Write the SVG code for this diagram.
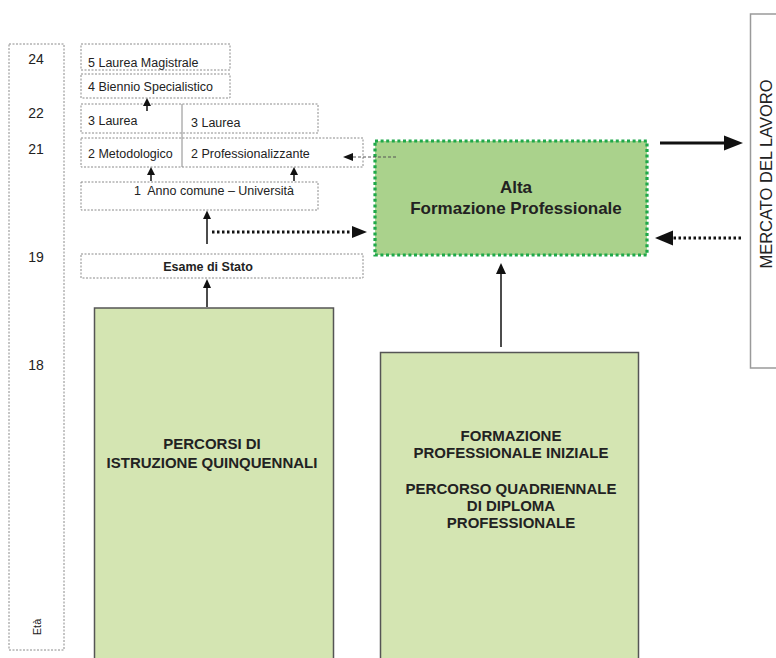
<svg xmlns="http://www.w3.org/2000/svg" width="776" height="658" viewBox="0 0 776 658">
<style>
  text { font-family: "Liberation Sans", Arial, sans-serif; fill: #222; }
  .dbox { fill: #fff; stroke: #8a8a8a; stroke-width: 1; stroke-dasharray: 2 1.5; }
  .sm { font-size: 12.5px; }
  .age { font-size: 14px; text-anchor: middle; }
  .big { fill: #d4e5b2; stroke: #555; stroke-width: 1.5; }
  .bt { font-size: 15px; font-weight: bold; text-anchor: middle; }
  .thin { stroke: #111; stroke-width: 1.5; fill: none; }
  .dot { stroke: #111; stroke-width: 3; stroke-dasharray: 2.5 2.5; fill: none; }
  .solid { stroke: #111; stroke-width: 3; fill: none; }
  .head { fill: #111; }
</style>

<g id="age-column">
  <rect class="dbox" x="9" y="44" width="55" height="606"/>
  <text class="age" x="36" y="64">24</text>
  <text class="age" x="36" y="118">22</text>
  <text class="age" x="36" y="154">21</text>
  <text class="age" x="36" y="262">19</text>
  <text class="age" x="36" y="370">18</text>
  <text x="41" y="627" font-size="11" text-anchor="middle" transform="rotate(-90 41 627)">Età</text>
</g>

<g id="laurea-magistrale">
  <rect class="dbox" x="81" y="44" width="149" height="26"/>
  <text class="sm" x="88" y="67">5 Laurea Magistrale</text>
</g>
<g id="biennio">
  <rect class="dbox" x="81" y="74" width="149" height="24"/>
  <text class="sm" x="88" y="91">4 Biennio Specialistico</text>
</g>
<g id="laurea-row">
  <rect class="dbox" x="81" y="104" width="237" height="29"/>
  <text class="sm" x="88" y="125">3 Laurea</text>
  <text class="sm" x="191" y="127">3 Laurea</text>
</g>
<g id="secondo-anno-row">
  <rect class="dbox" x="81" y="138" width="282" height="29"/>
  <text class="sm" x="88" y="158">2 Metodologico</text>
  <text class="sm" x="191" y="158">2 Professionalizzante</text>
</g>
<g id="divider">
  <line x1="182" y1="104" x2="182" y2="167" stroke="#8a8a8a" stroke-width="1"/>
</g>
<g id="anno-comune">
  <rect class="dbox" x="81" y="182" width="237" height="28"/>
  <text class="sm" x="214" y="195" text-anchor="middle" xml:space="preserve">1  Anno comune – Università</text>
</g>
<g id="esame">
  <rect class="dbox" x="81" y="254" width="282" height="24"/>
  <text class="sm" x="208" y="271" text-anchor="middle" font-weight="bold">Esame di Stato</text>
</g>

<g id="alta-formazione">
  <rect x="375" y="141" width="272" height="114" fill="#aad28c" stroke="#1fa84a" stroke-width="3.2" stroke-dasharray="3 2.6"/>
  <text x="516" y="193" font-size="17" font-weight="bold" text-anchor="middle">Alta</text>
  <text x="516" y="214" font-size="17" font-weight="bold" text-anchor="middle">Formazione Professionale</text>
</g>

<g id="mercato">
  <rect x="750.5" y="14" width="40" height="354" fill="#fff" stroke="#9a9a9a" stroke-width="1.5"/>
  <text x="772" y="174" font-size="16.5" text-anchor="middle" transform="rotate(-90 772 174)">MERCATO DEL LAVORO</text>
</g>

<g id="percorsi">
  <rect class="big" x="94.5" y="308" width="239" height="360"/>
  <text class="bt" x="212" y="449">PERCORSI DI</text>
  <text class="bt" x="212" y="468">ISTRUZIONE QUINQUENNALI</text>
</g>

<g id="formazione-iniziale">
  <rect class="big" x="380.5" y="352.5" width="258" height="320"/>
  <text class="bt" x="511" y="441">FORMAZIONE</text>
  <text class="bt" x="511" y="458">PROFESSIONALE INIZIALE</text>
  <text class="bt" x="511" y="494">PERCORSO QUADRIENNALE</text>
  <text class="bt" x="511" y="511">DI DIPLOMA</text>
  <text class="bt" x="511" y="528">PROFESSIONALE</text>
</g>

<g id="connectors">
  <line class="thin" x1="147" y1="111" x2="147" y2="105"/>
  <polygon class="head" points="147,98 143,106 151,106"/>
  <line class="thin" x1="151" y1="181" x2="151" y2="174"/>
  <polygon class="head" points="151,167 147,175 155,175"/>
  <line class="thin" x1="294" y1="181" x2="294" y2="174"/>
  <polygon class="head" points="294,167 290,175 298,175"/>
  <line class="thin" x1="207" y1="244" x2="207" y2="218"/>
  <polygon class="head" points="207,210.5 203,219 211,219"/>
  <line class="thin" x1="207" y1="307" x2="207" y2="287"/>
  <polygon class="head" points="207,279 203,288 211,288"/>
  <line class="dot" x1="212" y1="232" x2="353" y2="232"/>
  <polygon class="head" points="367,232 352,226 352,238"/>
  <line x1="396" y1="157" x2="352" y2="157" stroke="#555" stroke-width="1" stroke-dasharray="3 2"/>
  <polygon class="head" points="343,157 353,153 353,161"/>
  <line class="thin" x1="501" y1="347" x2="501" y2="272"/>
  <polygon class="head" points="501,263 496,274 506,274"/>
  <line class="solid" x1="660" y1="143" x2="726" y2="143"/>
  <polygon class="head" points="743,143 724,135.5 724,150.5"/>
  <line class="dot" x1="741" y1="238" x2="672" y2="238"/>
  <polygon class="head" points="655,238 673,230.5 673,245.5"/>
</g>
</svg>
